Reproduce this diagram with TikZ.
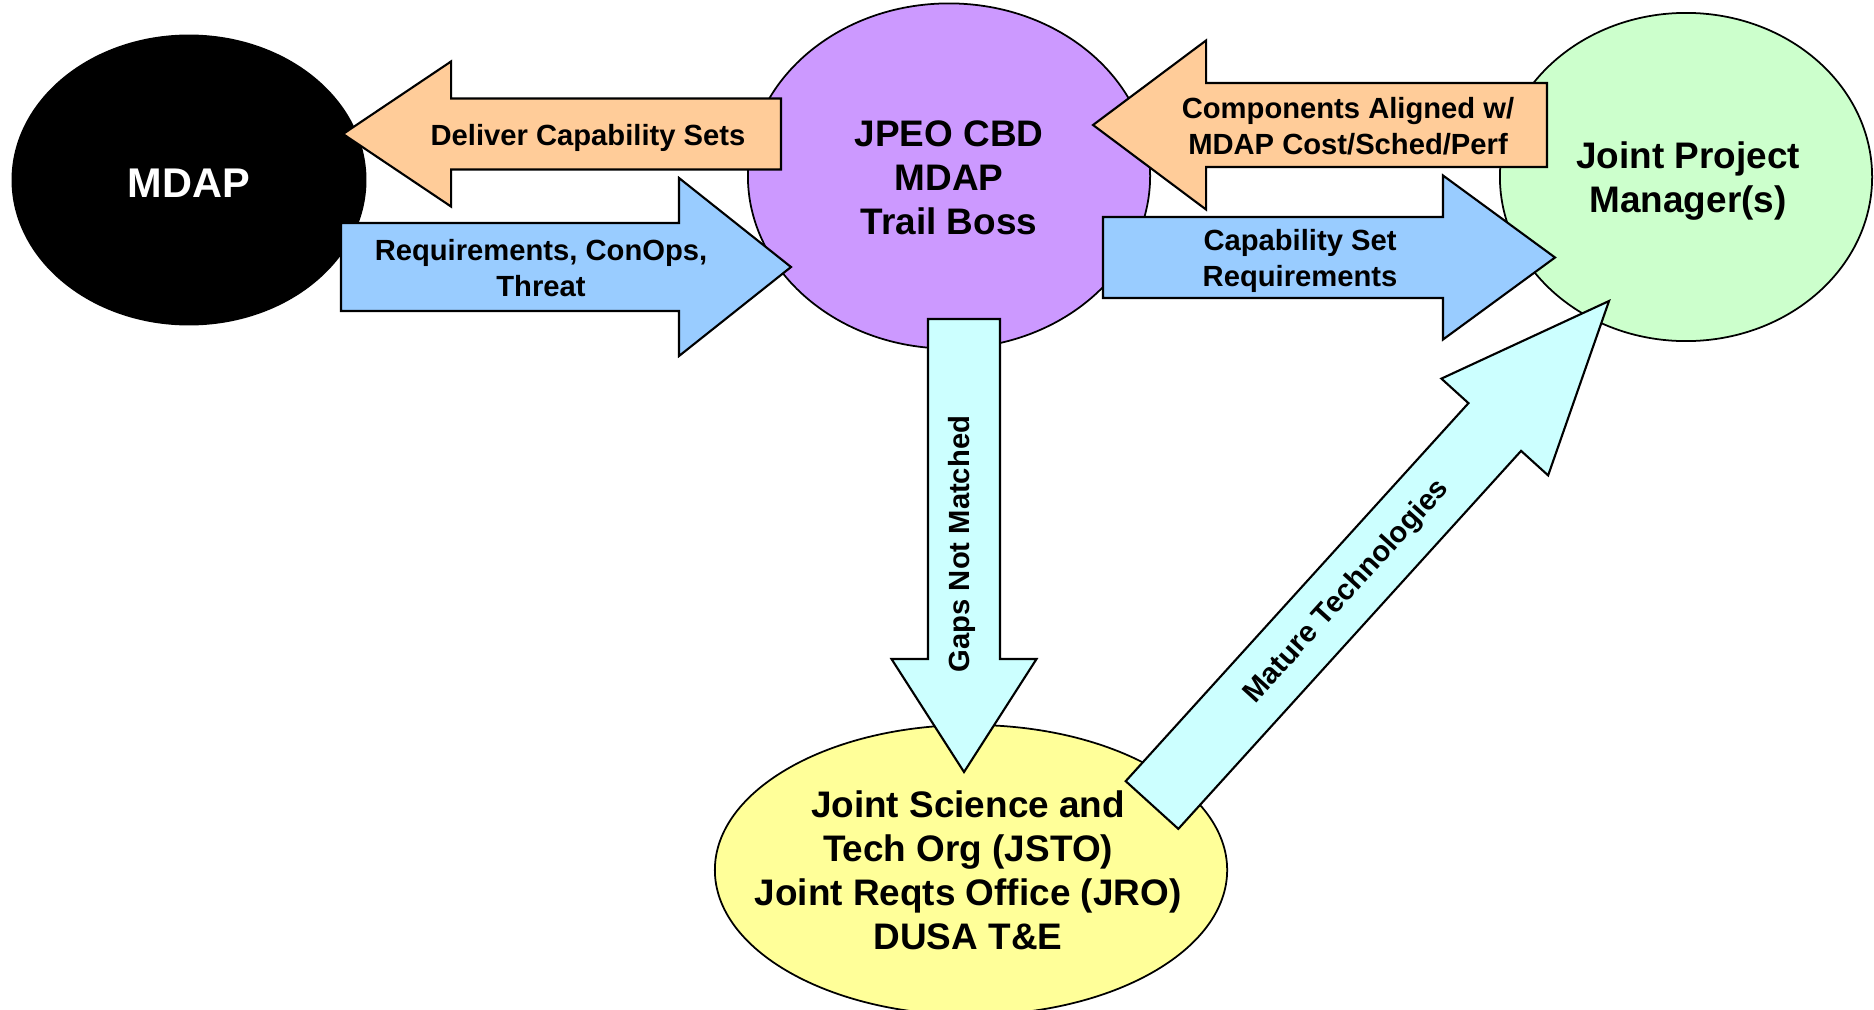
\documentclass[tikz,border=0pt]{standalone}
\usepackage{fontspec}
\setmainfont{Liberation Sans}
\usetikzlibrary{shapes.geometric}
\usetikzlibrary{calc}

\definecolor{jpeopurple}{RGB}{204,153,255}
\definecolor{pmgreen}{RGB}{204,255,204}
\definecolor{jstoyellow}{RGB}{255,255,153}
\definecolor{backorange}{RGB}{255,204,153}
\definecolor{reqblue}{RGB}{153,204,255}
\definecolor{gapcyan}{RGB}{204,255,255}

% style, tail, tip, half shaft, half head, head length
\newcommand{\blockarrow}[6]{%
  \coordinate (#2h) at ($(#3)!#6!(#2)$);
  \path[#1] ($(#2)!#4!90:(#3)$) -- ($(#2h)!#4!90:(#3)$) -- ($(#2h)!#5!90:(#3)$) -- (#3)
    -- ($(#2h)!#5!-90:(#3)$) -- ($(#2h)!#4!-90:(#3)$) -- ($(#2)!#4!-90:(#3)$) -- cycle;
}

\begin{document}
\begin{tikzpicture}[x=0.01cm,y=-0.01cm]
            \tikzstyle{office}=[ellipse,draw=black,line width=0.5pt,inner sep=0pt]
            \tikzstyle{bigtext}=[align=center,font=\fontsize{10.5pt}{12.5pt}\selectfont\bfseries]
            \tikzstyle{arrowtext}=[align=center,font=\fontsize{8.3pt}{10.2pt}\selectfont\bfseries]
            \tikzstyle{arrowbox}=[draw=black,line width=0.6pt,line join=miter]

            \useasboundingbox (0,0) rectangle (1874,1009);

            \node[office,fill=black,minimum width=3.53cm,minimum height=2.89cm]      (mdap) at (189,180) {};
            \node[office,fill=jpeopurple,minimum width=4.02cm,minimum height=3.45cm] (jpeo) at (949,176) {};
            \node[office,fill=pmgreen,minimum width=3.72cm,minimum height=3.28cm]    (jpm)  at (1686,177) {};
            \node[office,fill=jstoyellow,minimum width=5.12cm,minimum height=2.90cm] (jsto) at (971,870) {};

            \node[bigtext,text=white,font=\fontsize{11.8pt}{14pt}\selectfont\bfseries] (mdaptext) at (189,183) {MDAP};
            \node[bigtext] (jpeotext) at (949,178) {JPEO CBD\\MDAP\\Trail Boss};
            \node[bigtext] (jpmtext)  at (1688,181) {Joint Project\\Manager(s)};
            \node[bigtext] (jstotext) at (968,870) {Joint Science and\\Tech Org (JSTO)\\Joint Reqts Office (JRO)\\DUSA T\&E};

            \coordinate (dcs0) at (781,134);    \coordinate (dcs1) at (343,134);
            \coordinate (req0) at (341,267);    \coordinate (req1) at (791,267);
            \coordinate (comp0) at (1547,125);  \coordinate (comp1) at (1093,125);
            \coordinate (cap0) at (1103,257.5); \coordinate (cap1) at (1555,257.5);
            \coordinate (gap0) at (964,319);    \coordinate (gap1) at (964,772);
            \coordinate (mat0) at (1152,805);   \coordinate (mat1) at (1609,301);

            \blockarrow{arrowbox,fill=backorange}{dcs0}{dcs1}{0.355cm}{0.725cm}{1.08cm}
            \blockarrow{arrowbox,fill=reqblue}{req0}{req1}{0.44cm}{0.89cm}{1.12cm}
            \blockarrow{arrowbox,fill=backorange}{comp0}{comp1}{0.42cm}{0.845cm}{1.13cm}
            \blockarrow{arrowbox,fill=reqblue}{cap0}{cap1}{0.405cm}{0.82cm}{1.12cm}
            \blockarrow{arrowbox,fill=gapcyan}{gap0}{gap1}{0.36cm}{0.725cm}{1.13cm}
            \blockarrow{arrowbox,fill=gapcyan}{mat0}{mat1}{0.355cm}{0.72cm}{1.70cm}

            \node[arrowtext] (dcstext)  at (588,138)  {Deliver Capability Sets};
            \node[arrowtext] (reqtext)  at (541,268)  {Requirements, ConOps,\\Threat};
            \node[arrowtext] (comptext) at (1348,126) {Components Aligned w/\\MDAP Cost/Sched/Perf};
            \node[arrowtext] (captext)  at (1300,261) {Capability Set\\Requirements};
            \node[arrowtext,rotate=90]   (gaptext) at (962,544) {Gaps Not Matched};
            \node[arrowtext,rotate=47.8] (mattext) at (1347,592) {Mature Technologies};
        \end{tikzpicture}
\end{document}
